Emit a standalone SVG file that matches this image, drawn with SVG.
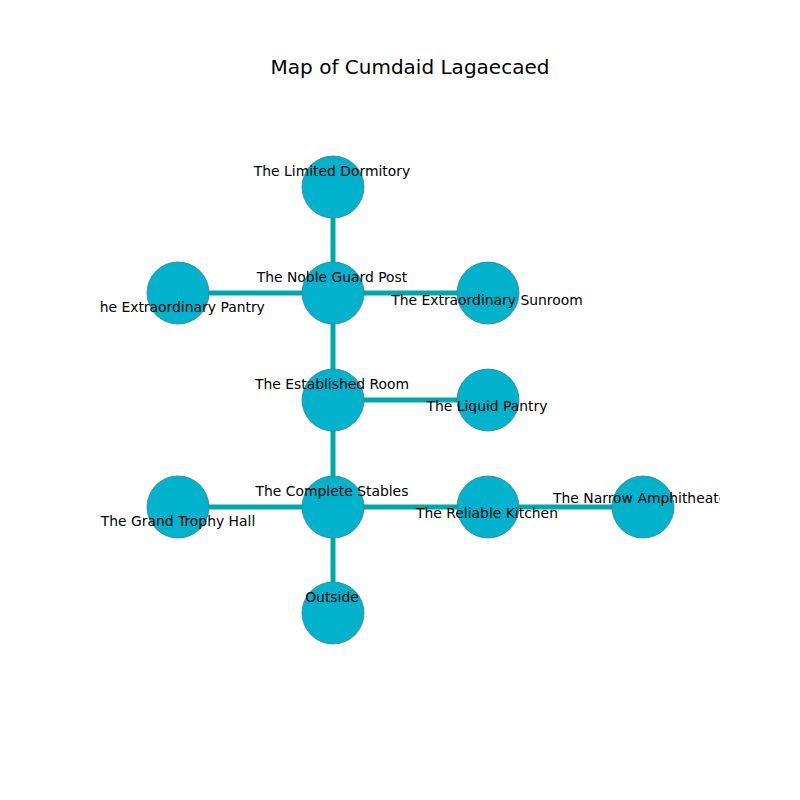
<svg xmlns="http://www.w3.org/2000/svg" width="800" height="800" viewBox="0 0 800 800">
<defs>
<style>
.edge{stroke:#00a8a8;stroke-width:5;fill:none}
.node circle{fill:#00b2cc;stroke:#3a8290;stroke-width:0.8}
.lbl{font-family:"DejaVu Sans",sans-serif;font-size:13.9px;fill:#000;text-anchor:middle;dominant-baseline:central}
.title{font-family:"DejaVu Sans",sans-serif;font-size:20px;fill:#000;text-anchor:middle}
</style>
<clipPath id="ax"><rect x="100" y="96" width="620" height="608"/></clipPath>
</defs>
<rect width="800" height="800" fill="#fff"/>
<text class="title" x="410" y="74">Map of Cumdaid Lagaecaed</text>
<g clip-path="url(#ax)">
<g id="connectors">
<line class="edge" x1="333" y1="187" x2="333" y2="293"/>
<line class="edge" x1="178" y1="293" x2="333" y2="293"/>
<line class="edge" x1="333" y1="293" x2="488" y2="293"/>
<line class="edge" x1="333" y1="293" x2="333" y2="400"/>
<line class="edge" x1="333" y1="400" x2="488" y2="400"/>
<line class="edge" x1="333" y1="400" x2="333" y2="507"/>
<line class="edge" x1="178" y1="507" x2="333" y2="507"/>
<line class="edge" x1="333" y1="507" x2="488" y2="507"/>
<line class="edge" x1="488" y1="507" x2="643" y2="507"/>
<line class="edge" x1="333" y1="507" x2="333" y2="613"/>
</g>
<g id="n-limited-dormitory" class="node"><circle cx="333" cy="187" r="31"/></g>
<g id="n-noble-guard-post" class="node"><circle cx="333" cy="293" r="31"/></g>
<g id="n-extraordinary-pantry" class="node"><circle cx="178" cy="293" r="31"/></g>
<g id="n-extraordinary-sunroom" class="node"><circle cx="488" cy="293" r="31"/></g>
<g id="n-established-room" class="node"><circle cx="333" cy="400" r="31"/></g>
<g id="n-liquid-pantry" class="node"><circle cx="488" cy="400" r="31"/></g>
<g id="n-complete-stables" class="node"><circle cx="333" cy="507" r="31"/></g>
<g id="n-grand-trophy-hall" class="node"><circle cx="178" cy="507" r="31"/></g>
<g id="n-reliable-kitchen" class="node"><circle cx="488" cy="507" r="31"/></g>
<g id="n-narrow-amphitheater" class="node"><circle cx="643" cy="507" r="31"/></g>
<g id="n-outside" class="node"><circle cx="333" cy="613" r="31"/></g>
<g id="labels">
<text class="lbl" x="332" y="171">The Limited Dormitory</text>
<text class="lbl" x="332" y="277">The Noble Guard Post</text>
<text class="lbl" x="178" y="307">The Extraordinary Pantry</text>
<text class="lbl" x="487" y="300">The Extraordinary Sunroom</text>
<text class="lbl" x="332" y="384">The Established Room</text>
<text class="lbl" x="487" y="406">The Liquid Pantry</text>
<text class="lbl" x="332" y="491">The Complete Stables</text>
<text class="lbl" x="178" y="521">The Grand Trophy Hall</text>
<text class="lbl" x="487" y="513">The Reliable Kitchen</text>
<text class="lbl" x="643" y="498">The Narrow Amphitheater</text>
<text class="lbl" x="332" y="597">Outside</text>
</g>
</g>
</svg>
